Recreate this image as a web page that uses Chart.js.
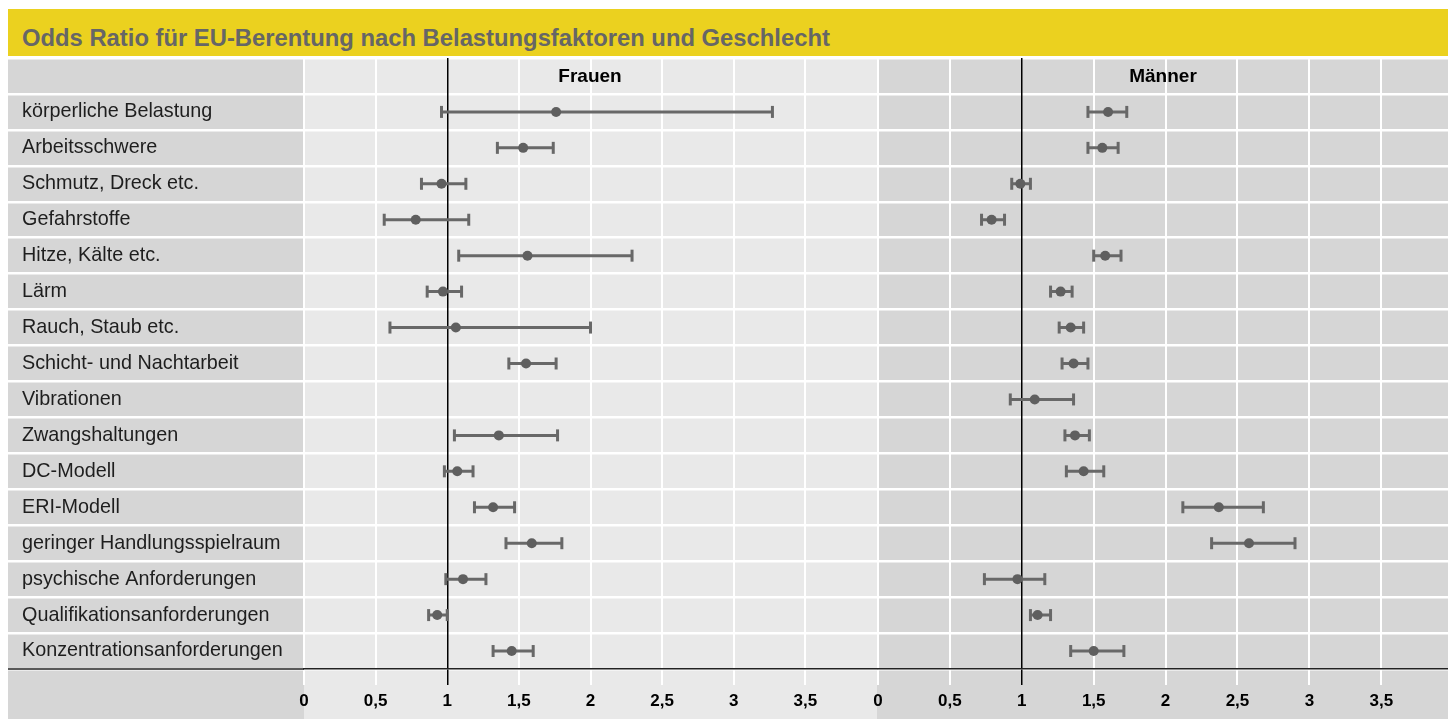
<!DOCTYPE html>
<html><head><meta charset="utf-8">
<script src="https://cdn.jsdelivr.net/npm/chart.js@4.4.1/dist/chart.umd.min.js"></script>
<style>
html,body{margin:0;padding:0;background:#fff;width:1448px;height:719px;overflow:hidden;font-family:"Liberation Sans",Arial,sans-serif;}
#bar{position:absolute;left:8px;top:9px;width:1440px;height:47px;background:#EBD11F;}
#title{position:absolute;left:22px;top:24.8px;line-height:26px;font-size:23.8px;font-weight:bold;color:#666;white-space:nowrap;}
.hdr{position:absolute;top:65px;line-height:22px;font-size:19px;font-weight:bold;color:#000;transform:translateX(-50%);white-space:nowrap;}
canvas{position:absolute;}
</style></head>
<body>
<div id="bar"></div>
<div id="title">Odds Ratio für EU-Berentung nach Belastungsfaktoren und Geschlecht</div>
<canvas id="cF" width="877" height="663" style="left:0;top:56px;width:877px;height:663px"></canvas>
<canvas id="cM" width="591" height="663" style="left:857px;top:56px;width:591px;height:663px"></canvas>
<div class="hdr" style="left:590px">Frauen</div>
<div class="hdr" style="left:1163px">Männer</div>
<script>
const categories = ['körperliche Belastung','Arbeitsschwere','Schmutz, Dreck etc.','Gefahrstoffe','Hitze, Kälte etc.','Lärm','Rauch, Staub etc.','Schicht- und Nachtarbeit','Vibrationen','Zwangshaltungen','DC-Modell','ERI-Modell','geringer Handlungsspielraum','psychische Anforderungen','Qualifikationsanforderungen','Konzentrationsanforderungen'];

const frauenOR   = [1.76,1.53,0.96,0.78,1.56,0.97,1.06,1.55,null,1.36,1.07,1.32,1.59,1.11,0.93,1.45];
const frauenLow  = [0.96,1.35,0.82,0.56,1.08,0.86,0.60,1.43,null,1.05,0.98,1.19,1.41,0.99,0.87,1.32];
const frauenHigh = [3.27,1.74,1.13,1.15,2.29,1.10,2.00,1.76,null,1.77,1.18,1.47,1.80,1.27,1.00,1.60];

const maennerOR   = [1.60,1.56,0.99,0.79,1.58,1.27,1.34,1.36,1.09,1.37,1.43,2.37,2.58,0.97,1.11,1.50];
const maennerLow  = [1.46,1.46,0.93,0.72,1.50,1.20,1.26,1.28,0.92,1.30,1.31,2.12,2.32,0.74,1.06,1.34];
const maennerHigh = [1.73,1.67,1.06,0.88,1.69,1.35,1.43,1.46,1.36,1.47,1.57,2.68,2.90,1.16,1.20,1.71];

const xTickValues = [0,0.5,1,1.5,2,2.5,3,3.5];
const headerRow = '';

const FONT = '"Liberation Sans", Arial, sans-serif';
const rowLabels = [headerRow].concat(categories);

function buildDatasets(or, lo, hi) {
  const pts = [], seg = [], caps = [];
  categories.forEach((c, i) => {
    if (or[i] == null) return;
    pts.push({x: or[i], y: c});
    seg.push({x: lo[i], y: c}, {x: hi[i], y: c}, {x: null, y: c});
    caps.push({x: lo[i], y: c}, {x: hi[i], y: c});
  });
  return [
    {data: pts, pointRadius: 5, pointBackgroundColor: '#5f5f5f', pointBorderWidth: 0, pointHoverRadius: 5},
    {data: seg, showLine: true, spanGaps: false, borderColor: '#686868', borderWidth: 3, pointRadius: 0, pointHoverRadius: 0},
    {data: caps, pointStyle: 'line', rotation: 90, pointRadius: 6, pointHoverRadius: 6, pointBorderWidth: 3, pointBorderColor: '#686868', pointBackgroundColor: '#686868'}
  ];
}

const isOne = ctx => ctx.tick && ctx.tick.value === 1;

function xScale(max) {
  return {
    type: 'linear', position: 'bottom', min: 0, max: max,
    afterBuildTicks: s => { s.ticks = xTickValues.map(v => ({value: v})); },
    afterFit: s => { s.height = 50; s.paddingLeft = 0; s.paddingRight = 0; },
    grid: {
      z: -0.5,
      color: ctx => isOne(ctx) ? '#000' : '#ffffff',
      tickColor: ctx => isOne(ctx) ? '#000' : '#ffffff',
      lineWidth: ctx => isOne(ctx) ? 1.5 : 2,
      drawTicks: true, tickLength: 16
    },
    border: {display: true, color: '#222', width: 1.5},
    ticks: {
      autoSkip: false, maxRotation: 0, padding: 6, color: '#000',
      font: {family: FONT, size: 17, weight: 'bold'},
      callback: v => String(v).replace('.', ',')
    }
  };
}

function yScale(showLabels) {
  return {
    type: 'category', labels: rowLabels, offset: true,
    afterFit: s => { s.width = showLabels ? 282 : 0; s.paddingTop = 0; s.paddingBottom = 0; },
    grid: {offset: true, color: '#ffffff', lineWidth: 2.5, tickColor: '#ffffff', drawTicks: showLabels, tickLength: 300},
    border: {display: false},
    ticks: {display: showLabels, crossAlign: 'far', padding: 0, autoSkip: false, color: '#1e1e1e', font: {family: FONT, size: 19.8}}
  };
}

const bgPlugin = (labelCol, panelColor) => ({
  id: 'bg',
  beforeDraw(chart) {
    const {ctx, chartArea: a, width, height} = chart;
    ctx.save();
    if (labelCol) {
      ctx.fillStyle = '#d6d6d6';
      ctx.fillRect(8, a.top, a.left - 8, height - a.top);
    }
    ctx.fillStyle = panelColor;
    const x0 = labelCol ? a.left : a.left - 1;
    ctx.fillRect(x0, a.top, width - x0, height - a.top);
    ctx.restore();
  },
  beforeDatasetsDraw(chart) {
    if (!labelCol) return;
    const {ctx, chartArea: a} = chart;
    ctx.save();
    ctx.strokeStyle = '#222';
    ctx.lineWidth = 1.5;
    ctx.beginPath();
    ctx.moveTo(8, a.bottom);
    ctx.lineTo(a.left, a.bottom);
    ctx.stroke();
    ctx.restore();
  }
});

function makeChart(id, or, lo, hi, max, labels, panelColor, padLeft) {
  return new Chart(document.getElementById(id), {
    type: 'scatter',
    data: {datasets: buildDatasets(or, lo, hi)},
    options: {
      responsive: false, animation: false, devicePixelRatio: 1,
      layout: {autoPadding: false, padding: {left: padLeft, top: 2, right: 0, bottom: 0}},
      plugins: {legend: {display: false}, tooltip: {enabled: false}, title: {display: false}},
      scales: {y: yScale(labels), x: xScale(max)}
    },
    plugins: [bgPlugin(labels, panelColor)]
  });
}

makeChart('cF', frauenOR, frauenLow, frauenHigh, 4.0, true, '#e9e9e9', 22);
makeChart('cM', maennerOR, maennerLow, maennerHigh, 3.964, false, '#d6d6d6', 21);
</script>
</body></html>
